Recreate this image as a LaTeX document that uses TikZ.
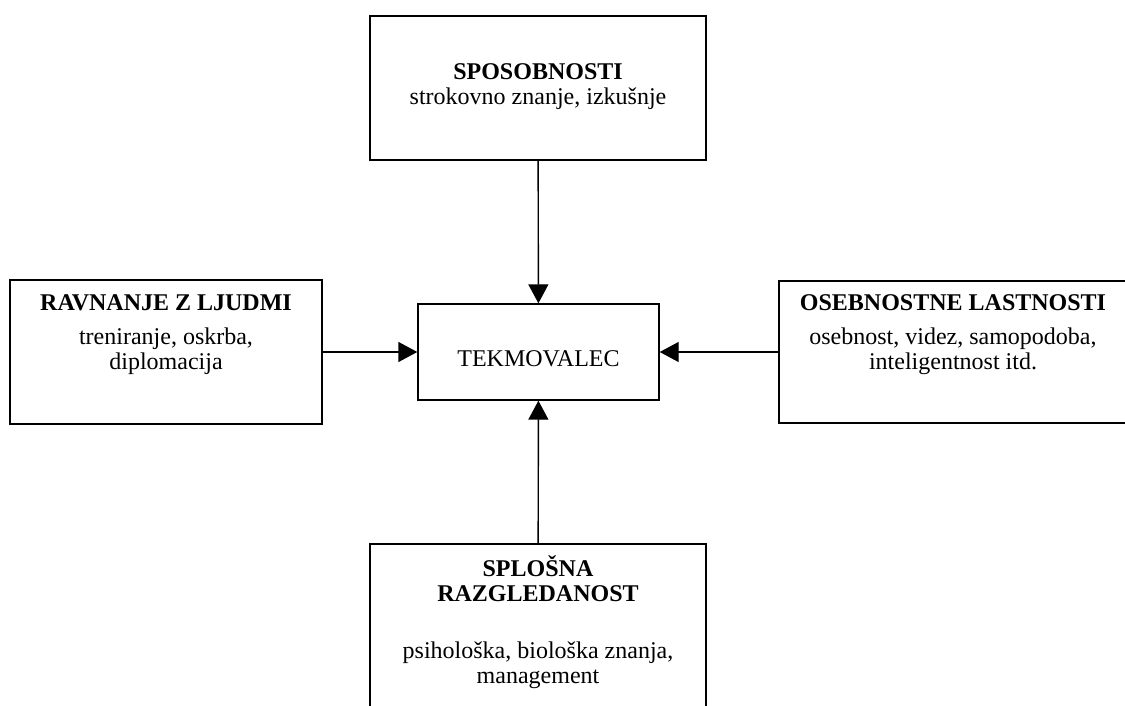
\documentclass[tikz,border=0pt]{standalone}
\usepackage{fontspec}
\setmainfont{Liberation Serif}
\usetikzlibrary{arrows.meta,positioning}

\tikzset{
  box/.style={draw, line width=1.4pt, inner sep=0pt},
  boxtext/.style={align=center, inner sep=0pt, anchor=base, font=\fontsize{24}{25}\selectfont},
  arrow/.style={line width=1.4pt, -{Triangle[length=19pt,width=20pt]}}
}

\begin{document}
\begin{tikzpicture}[x=1pt,y=-1pt]
  \useasboundingbox (0,0) rectangle (1125,706); % page size
  \clip (0,0) rectangle (1125,706);

  % boxes
  \node[box, minimum width=336pt, minimum height=144pt] (sposobnosti) at (538,88) {};
  \node[box, minimum width=312pt, minimum height=144pt] (ljudje) at (166,352) {};
  \node[box, minimum width=349pt, minimum height=142pt] (osebnost) at (953.5,352) {};
  \node[box, minimum width=336pt, minimum height=170pt] (razgledanost) at (538,629) {};
  \node[box, minimum width=241pt, minimum height=96pt] (tekmovalec) at (538.5,352) {};

  % texts (base = last line)
  \node[boxtext] (sposobnostitxt) at (538,105) {\textbf{SPOSOBNOSTI}\\ strokovno znanje, izkušnje};
  \node[boxtext] (ljudjetxt) at (166,369) {\textbf{RAVNANJE Z LJUDMI}\\[9pt] treniranje, oskrba,\\ diplomacija};
  \node[boxtext] (osebnosttxt) at (953,369) {\textbf{OSEBNOSTNE LASTNOSTI}\\[9pt] osebnost, videz, samopodoba,\\ inteligentnost itd.};
  \node[boxtext] (razgledanosttxt) at (538,683) {\textbf{SPLOŠNA}\\ \textbf{RAZGLEDANOST}\\[32pt] psihološka, biološka znanja,\\ management};
  \node[boxtext] (tekmovalectxt) at (538.5,366) {TEKMOVALEC};

  % arrows
  \draw[arrow] (sposobnosti) -- (tekmovalec);
  \draw[arrow] (ljudje) -- (tekmovalec);
  \draw[arrow] (osebnost) -- (tekmovalec);
  \draw[arrow] (razgledanost) -- (tekmovalec);
\end{tikzpicture}
\end{document}
